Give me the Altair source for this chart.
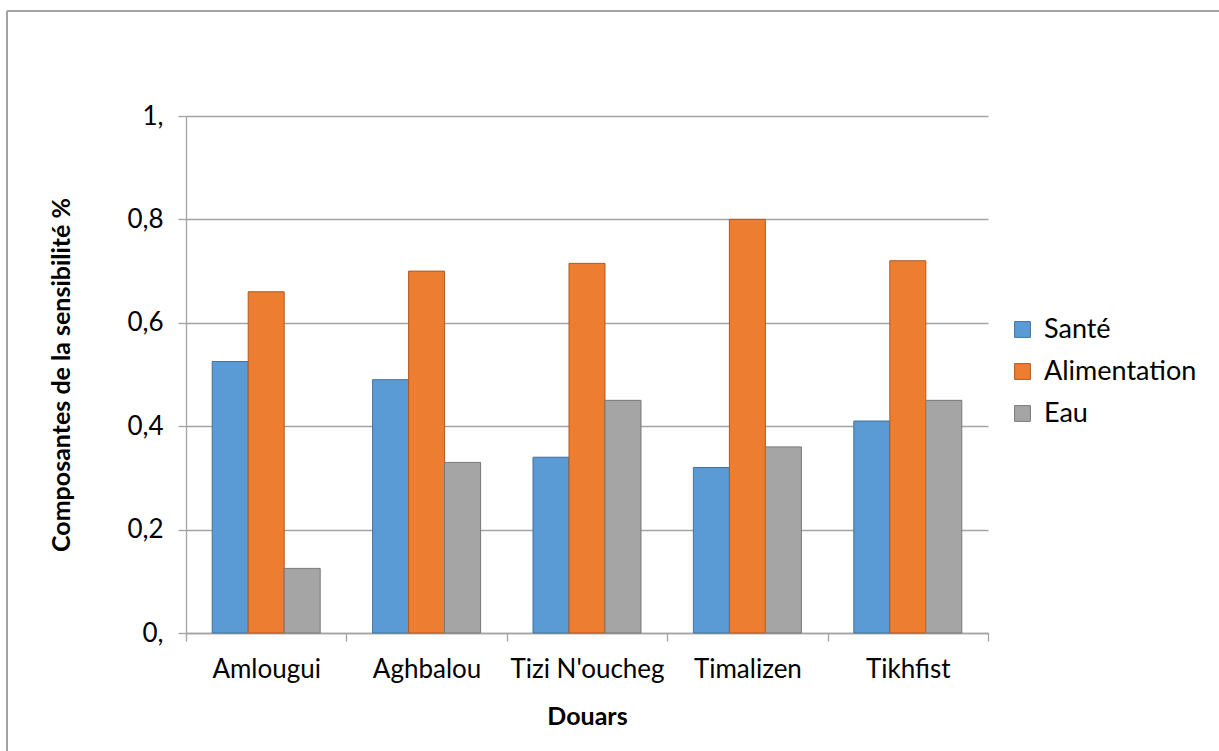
import altair as alt
import pandas as pd

# Villages (douars) and the three sensitivity components
douars = ["Amlougui", "Aghbalou", "Tizi N'oucheg", "Timalizen", "Tikhfist"]
composantes = ["Santé", "Alimentation", "Eau"]

sante = [0.525, 0.49, 0.34, 0.32, 0.41]
alimentation = [0.66, 0.70, 0.715, 0.80, 0.72]
eau = [0.125, 0.33, 0.45, 0.36, 0.45]

fills = ["#5B9BD5", "#ED7D31", "#A5A5A5"]
strokes = ["#41719C", "#AE5A21", "#787878"]

rows = []
for name, values in zip(composantes, [sante, alimentation, eau]):
    for d, v in zip(douars, values):
        rows.append({"Douar": d, "Composante": name, "Valeur": v})
df = pd.DataFrame(rows)

FONT = "Lato"
GRID = "#A3A3A3"

y_label = ("datum.value == 0 ? '0,' : datum.value == 1 ? '1,' : "
           "replace(format(datum.value, '.1f'), '.', ',')")

legend = alt.Legend(
    title=None, orient="none", legendX=823, legendY=200, padding=0,
    symbolType="square", symbolSize=250, symbolStrokeWidth=1,
    labelFont=FONT, labelFontSize=27, labelColor="#000000",
    labelOffset=8, rowPadding=14,
)

bars = alt.Chart(df).mark_bar(strokeWidth=1).encode(
    x=alt.X("Douar:N", sort=douars,
            scale=alt.Scale(paddingInner=0, paddingOuter=0),
            axis=alt.Axis(title="Douars", labelAngle=0, tickBand="extent",
                          labelPadding=15, titlePadding=22)),
    xOffset=alt.XOffset("Composante:N", sort=composantes,
                        scale=alt.Scale(domain=composantes, paddingInner=0,
                                        paddingOuter=0.728)),
    y=alt.Y("Valeur:Q", scale=alt.Scale(domain=[0, 1], nice=False),
            axis=alt.Axis(title="Composantes de la sensibilité %",
                          values=[0, 0.2, 0.4, 0.6, 0.8, 1.0],
                          labelExpr=y_label, labelPadding=15,
                          titlePadding=52)),
    color=alt.Color("Composante:N", sort=composantes,
                    scale=alt.Scale(domain=composantes, range=fills),
                    legend=legend),
    stroke=alt.Stroke("Composante:N", sort=composantes,
                      scale=alt.Scale(domain=composantes, range=strokes),
                      legend=legend),
)

# Outer frame of the chart
frame_left = alt.Chart(df).mark_rule(color=GRID, strokeWidth=1.5).encode(
    x=alt.value(-179), y=alt.value(-105), y2=alt.value(640))
frame_top = alt.Chart(df).mark_rule(color=GRID, strokeWidth=1.5).encode(
    x=alt.value(-179), x2=alt.value(1040), y=alt.value(-105))

chart = alt.layer(frame_left, frame_top, bars).properties(
    width=802, height=517,
    autosize=alt.AutoSizeParams(type="none"),
    padding={"left": 186, "top": 116, "right": 231, "bottom": 118},
).configure_view(stroke=None).configure_axis(
    labelFont=FONT, labelFontSize=26, labelColor="#000000",
    titleFont=FONT, titleFontSize=25, titleColor="#000000", titleFontWeight="bold",
    domainColor=GRID, tickColor=GRID, gridColor=GRID,
    domainWidth=1.3, tickWidth=1.3, gridWidth=1.3, tickSize=8,
).configure_axisX(grid=False).configure_axisY(grid=True)

chart.save("out.html", embed_options={"renderer": "svg", "actions": False})
